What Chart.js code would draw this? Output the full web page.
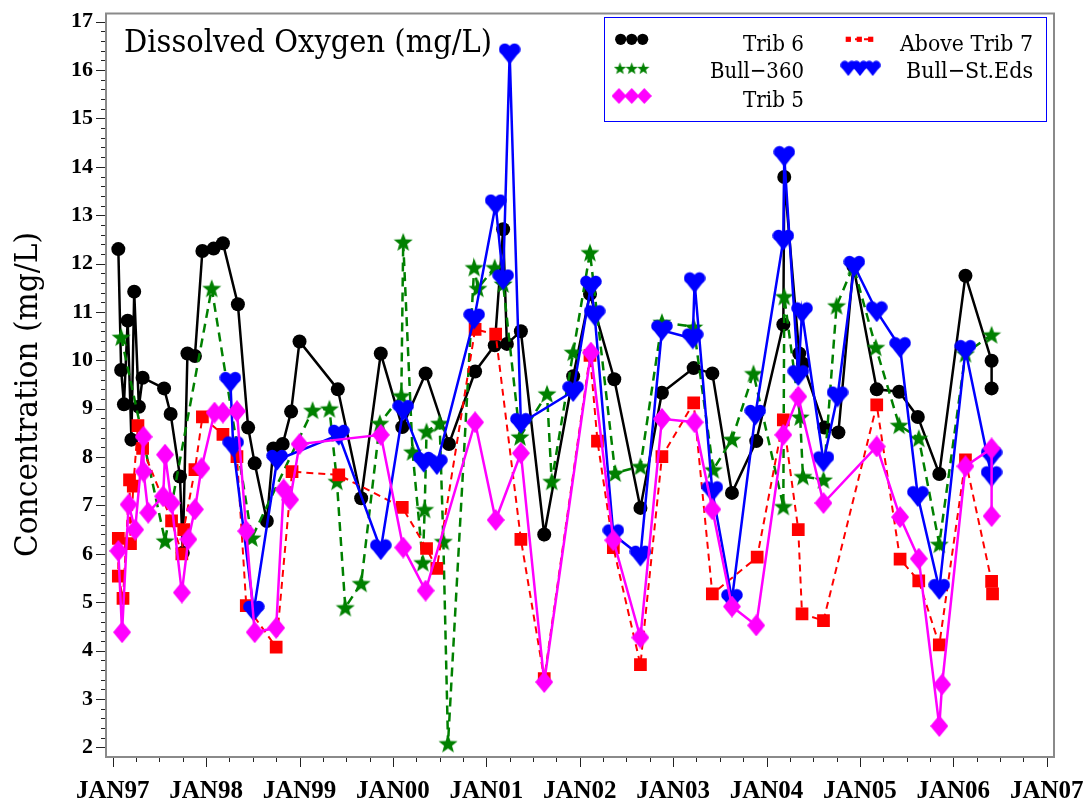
<!DOCTYPE html>
<html>
<head>
<meta charset="utf-8">
<script src="https://cdn.jsdelivr.net/npm/chart.js@4.4.1/dist/chart.umd.min.js"></script>
<style>
  html, body { margin: 0; padding: 0; background: #fff; }
  #wrap { width: 1086px; height: 806px; }
</style>
</head>
<body>
<div id="wrap"><canvas id="chart" width="1086" height="806"></canvas></div>
<script>
// sample dates as decimal years, dissolved oxygen in mg/L
const trib6Year = [1997.06, 1997.09, 1997.12, 1997.16, 1997.20, 1997.23, 1997.28, 1997.32, 1997.55, 1997.62,
  1997.72, 1997.75, 1997.80, 1997.88, 1997.96, 1998.08, 1998.18, 1998.34, 1998.45, 1998.52,
  1998.65, 1998.72, 1998.82, 1998.91, 1999.00, 1999.41, 1999.66, 1999.87, 2000.10, 2000.35,
  2000.60, 2000.88, 2001.09, 2001.18, 2001.22, 2001.37, 2001.62, 2001.93, 2002.11, 2002.37,
  2002.65, 2002.88, 2003.22, 2003.42, 2003.63, 2003.89, 2004.18, 2004.19, 2004.35, 2004.39,
  2004.62, 2004.77, 2004.93, 2005.18, 2005.42, 2005.62, 2005.85, 2006.13, 2006.41, 2006.41];
const trib6DO = [12.30, 9.80, 9.09, 10.82, 8.36, 11.42, 9.04, 9.64, 9.42, 8.89,
  7.60, 6.02, 10.14, 10.09, 12.26, 12.31, 12.42, 11.16, 8.61, 7.87,
  6.68, 8.18, 8.27, 8.94, 10.39, 9.40, 7.15, 10.14, 8.62, 9.73,
  8.27, 9.77, 10.31, 12.71, 10.34, 10.60, 6.40, 9.67, 11.37, 9.61,
  6.95, 9.33, 9.84, 9.73, 7.26, 8.33, 10.74, 13.79, 10.14, 9.93,
  8.61, 8.51, 11.95, 9.40, 9.35, 8.83, 7.65, 11.75, 9.99, 9.42];

const bull360Year = [1997.09, 1997.56, 1998.06, 1998.49, 1999.14, 1999.32, 1999.40, 1999.49, 1999.66, 1999.86,
  2000.09, 2000.11, 2000.21, 2000.32, 2000.34, 2000.36, 2000.50, 2000.54, 2000.59, 2000.87,
  2000.91, 2001.09, 2001.18, 2001.36, 2001.65, 2001.70, 2001.93, 2002.11, 2002.38, 2002.65,
  2002.88, 2003.22, 2003.43, 2003.63, 2003.86, 2004.18, 2004.19, 2004.36, 2004.39, 2004.61,
  2004.75, 2004.93, 2005.17, 2005.42, 2005.63, 2005.85, 2006.13, 2006.41];
const bull360DO = [10.48, 6.27, 11.49, 6.33, 8.97, 9.00, 7.50, 4.89, 5.39, 8.70,
  9.27, 12.45, 8.11, 5.82, 6.92, 8.53, 8.70, 6.26, 2.08, 11.92,
  11.49, 11.92, 11.58, 8.42, 9.31, 7.50, 10.17, 12.23, 7.67, 7.81,
  10.79, 10.69, 7.74, 8.37, 9.73, 6.98, 11.32, 8.83, 7.60, 7.53,
  11.13, 11.95, 10.27, 8.66, 8.39, 6.20, 10.14, 10.53];

const trib5Year = [1997.06, 1997.10, 1997.17, 1997.24, 1997.33, 1997.33, 1997.38, 1997.54, 1997.56, 1997.63,
  1997.74, 1997.81, 1997.88, 1997.95, 1998.09, 1998.18, 1998.33, 1998.43, 1998.52, 1998.75,
  1998.83, 1998.90, 1999.00, 1999.87, 2000.11, 2000.35, 2000.88, 2001.10, 2001.37, 2001.62,
  2002.12, 2002.36, 2002.65, 2002.88, 2003.23, 2003.42, 2003.63, 2003.89, 2004.18, 2004.34,
  2004.61, 2005.18, 2005.43, 2005.63, 2005.85, 2005.88, 2006.13, 2006.41, 2006.41];
const trib5DO = [6.06, 4.38, 7.02, 6.50, 8.42, 7.70, 6.85, 7.19, 8.05, 7.05,
  5.20, 6.30, 6.92, 7.77, 8.92, 8.92, 8.95, 6.47, 4.38, 4.47,
  7.33, 7.12, 8.27, 8.46, 6.13, 5.24, 8.72, 6.70, 8.08, 3.35,
  10.16, 6.28, 4.27, 8.79, 8.72, 6.92, 4.91, 4.52, 8.46, 9.25,
  7.05, 8.22, 6.76, 5.90, 2.44, 3.30, 7.81, 8.18, 6.78];

const aboveTrib7Year = [1997.06, 1997.06, 1997.11, 1997.18, 1997.19, 1997.22, 1997.27, 1997.32, 1997.63, 1997.74,
  1997.76, 1997.88, 1997.96, 1998.18, 1998.33, 1998.43, 1998.75, 1998.92, 1999.42, 2000.10,
  2000.36, 2000.47, 2000.88, 2001.10, 2001.37, 2001.62, 2002.11, 2002.19, 2002.36, 2002.65,
  2002.88, 2003.22, 2003.42, 2003.90, 2004.18, 2004.34, 2004.38, 2004.61, 2005.18, 2005.43,
  2005.63, 2005.85, 2006.13, 2006.41, 2006.42];
const aboveTrib7DO = [6.32, 5.54, 5.08, 7.53, 6.21, 7.40, 8.65, 8.18, 6.68, 6.00,
  6.50, 7.74, 8.83, 8.47, 8.01, 4.93, 4.07, 7.70, 7.63, 6.96,
  6.11, 5.70, 10.64, 10.54, 6.30, 3.42, 10.10, 8.33, 6.13, 3.71,
  8.01, 9.12, 5.17, 5.93, 8.77, 6.50, 4.76, 4.62, 9.08, 5.89,
  5.44, 4.12, 7.94, 5.43, 5.17];

const bullStEdsYear = [1998.26, 1998.29, 1998.51, 1998.76, 1999.42, 1999.87, 2000.11, 2000.33, 2000.47, 2000.87,
  2001.10, 2001.18, 2001.25, 2001.37, 2001.93, 2002.12, 2002.16, 2002.36, 2002.65, 2002.88,
  2003.21, 2003.23, 2003.42, 2003.63, 2003.88, 2004.18, 2004.19, 2004.34, 2004.38, 2004.61,
  2004.76, 2004.94, 2005.18, 2005.43, 2005.62, 2005.85, 2006.13, 2006.41, 2006.41];
const bullStEdsDO = [9.55, 8.22, 4.82, 7.94, 8.46, 6.09, 8.97, 7.90, 7.85, 10.86,
  13.22, 11.67, 16.34, 8.70, 9.36, 11.54, 10.93, 6.40, 5.96, 10.62,
  10.45, 11.61, 7.29, 5.06, 8.87, 12.49, 14.22, 9.69, 10.99, 7.91,
  9.25, 11.95, 11.01, 10.27, 7.19, 5.27, 10.21, 7.60, 8.01];

const xTicks = [1997, 1998, 1999, 2000, 2001, 2002, 2003, 2004, 2005, 2006, 2007];
const xTickLabels = ['JAN97', 'JAN98', 'JAN99', 'JAN00', 'JAN01', 'JAN02', 'JAN03', 'JAN04', 'JAN05', 'JAN06', 'JAN07'];
const yTicks = [2, 3, 4, 5, 6, 7, 8, 9, 10, 11, 12, 13, 14, 15, 16, 17];

const serif = '"DejaVu Serif", "Liberation Serif", serif';
const tickFamily = '"Liberation Serif", "DejaVu Serif", serif';

function markerCanvas(w, h, draw) {
  const c = document.createElement('canvas');
  c.width = w;
  c.height = h;
  draw(c.getContext('2d'), w, h);
  return c;
}

function makeStar(size, color) {
  return markerCanvas(size, size, (g, w, h) => {
    const R = w / 2, r = R * 0.42;
    const cx = w / 2, cy = h / 2 + R * 0.09;
    g.fillStyle = color;
    g.beginPath();
    for (let i = 0; i < 10; i++) {
      const rad = i % 2 ? r : R;
      const a = -Math.PI / 2 + i * Math.PI / 5;
      g.lineTo(cx + rad * Math.cos(a), cy + rad * Math.sin(a));
    }
    g.closePath();
    g.fill();
  });
}

function makeHeart(w, h, color) {
  return markerCanvas(w, h, (g) => {
    const r = w * 0.27;
    g.fillStyle = color;
    g.beginPath();
    g.arc(w * 0.28, h * 0.3, r, 0, Math.PI * 2);
    g.arc(w * 0.72, h * 0.3, r, 0, Math.PI * 2);
    g.fill();
    g.beginPath();
    g.moveTo(w * 0.02, h * 0.38);
    g.lineTo(w * 0.98, h * 0.38);
    g.lineTo(w * 0.5, h * 0.99);
    g.closePath();
    g.fill();
  });
}

function makeDiamond(w, h, color) {
  return markerCanvas(w, h, (g) => {
    g.fillStyle = color;
    g.beginPath();
    g.moveTo(w / 2, 0);
    g.lineTo(w, h / 2);
    g.lineTo(w / 2, h);
    g.lineTo(0, h / 2);
    g.closePath();
    g.fill();
  });
}

const GREEN = '#008000', MAGENTA = '#ff00ff', RED = '#ff0000', BLUE = '#0000ff';

const starPt = makeStar(20, GREEN);
const heartPt = makeHeart(22, 22, BLUE);
const diamondPt = makeDiamond(18, 22, MAGENTA);
const starKey = makeStar(13, GREEN);
const heartKey = makeHeart(16, 16, BLUE);
const diamondKey = makeDiamond(15, 16, MAGENTA);

function pts(xs, ys) {
  return xs.map((x, i) => ({ x, y: ys[i] }));
}

function fitText(ctx, text, x, y, width, align) {
  const w = ctx.measureText(text).width;
  ctx.save();
  ctx.translate(x, y);
  ctx.scale(width / w, 1);
  ctx.textAlign = align;
  ctx.fillText(text, 0, 0);
  ctx.restore();
}

const decorations = {
  id: 'decorations',
  afterDraw(chart) {
    const { ctx, chartArea: a, scales: { x, y } } = chart;
    ctx.save();

    // tick marks: quarters on x, 0.2 mg/L on y
    ctx.strokeStyle = '#222';
    ctx.lineWidth = 1;
    ctx.beginPath();
    for (let q = 0; q <= 40; q++) {
      const px = Math.round(x.getPixelForValue(1997 + q / 4)) + 0.5;
      const len = q % 4 === 0 ? 10 : 5;
      ctx.moveTo(px, a.bottom);
      ctx.lineTo(px, a.bottom + len);
    }
    for (let q = 0; q <= 75; q++) {
      const py = Math.round(y.getPixelForValue(2 + q / 5)) + 0.5;
      const len = q % 5 === 0 ? 10 : 5;
      ctx.moveTo(a.left - len, py);
      ctx.lineTo(a.left, py);
    }
    ctx.stroke();

    ctx.strokeStyle = '#8a8a8a';
    ctx.lineWidth = 2;
    ctx.strokeRect(a.left, a.top, a.right - a.left, a.bottom - a.top);

    ctx.fillStyle = '#000';
    ctx.textBaseline = 'alphabetic';

    // title in the plot
    ctx.font = '32px ' + serif;
    fitText(ctx, 'Dissolved Oxygen (mg/L)', 124, 52, 368, 'left');

    // y axis title
    ctx.save();
    ctx.translate(37, 557);
    ctx.rotate(-Math.PI / 2);
    ctx.font = '32px ' + serif;
    fitText(ctx, 'Concentration (mg/L)', 0, 0, 325, 'left');
    ctx.restore();

    // legend box
    ctx.strokeStyle = BLUE;
    ctx.lineWidth = 1;
    ctx.strokeRect(604.5, 17.5, 442, 104);

    ctx.fillStyle = '#000';
    [620.7, 631.7, 642.7].forEach(cx => {
      ctx.beginPath();
      ctx.arc(cx, 39.3, 5.6, 0, Math.PI * 2);
      ctx.fill();
    });
    [620, 631.7, 643.3].forEach(cx => ctx.drawImage(starKey, cx - 6.5, 68.3 - 6.5));
    [619, 631.7, 644.3].forEach(cx => ctx.drawImage(diamondKey, cx - 7.5, 96 - 8));

    ctx.strokeStyle = RED;
    ctx.lineWidth = 2;
    ctx.setLineDash([5, 4]);
    ctx.beginPath();
    ctx.moveTo(846, 39.3);
    ctx.lineTo(873, 39.3);
    ctx.stroke();
    ctx.setLineDash([]);
    ctx.fillStyle = RED;
    [848.3, 859.3, 870.7].forEach(cx => ctx.fillRect(cx - 2.6, 39.3 - 2.6, 5.2, 5.2));
    [848.3, 860, 872.7].forEach(cx => ctx.drawImage(heartKey, cx - 8, 68.3 - 8));

    ctx.fillStyle = '#000';
    ctx.font = '23px ' + serif;
    fitText(ctx, 'Trib 6', 804, 50.7, 61, 'right');
    fitText(ctx, 'Bull\u2212360', 804, 78.3, 94, 'right');
    fitText(ctx, 'Trib 5', 804, 107.3, 61, 'right');
    fitText(ctx, 'Above Trib 7', 1033, 50.7, 133, 'right');
    fitText(ctx, 'Bull\u2212St.Eds', 1033, 78.3, 127, 'right');

    ctx.restore();
  }
};

new Chart(document.getElementById('chart'), {
  type: 'line',
  data: {
    datasets: [
      {
        label: 'Trib 6',
        data: pts(trib6Year, trib6DO),
        borderColor: '#000',
        borderWidth: 2.5,
        pointStyle: 'circle',
        pointRadius: 7,
        pointBackgroundColor: '#000',
        pointBorderWidth: 0,
        order: 4,
      },
      {
        label: 'Bull\u2212360',
        data: pts(bull360Year, bull360DO),
        borderColor: GREEN,
        borderWidth: 2.5,
        borderDash: [9, 6],
        pointStyle: starPt,
        pointRadius: 10,
        order: 3,
      },
      {
        label: 'Trib 5',
        data: pts(trib5Year, trib5DO),
        borderColor: MAGENTA,
        borderWidth: 2.5,
        pointStyle: diamondPt,
        pointRadius: 10,
        order: 0,
      },
      {
        label: 'Above Trib 7',
        data: pts(aboveTrib7Year, aboveTrib7DO),
        borderColor: RED,
        borderWidth: 2,
        borderDash: [7, 5],
        pointStyle: 'rect',
        pointRadius: 9,
        pointBackgroundColor: RED,
        pointBorderWidth: 0,
        order: 2,
      },
      {
        label: 'Bull\u2212St.Eds',
        data: pts(bullStEdsYear, bullStEdsDO),
        borderColor: BLUE,
        borderWidth: 2.5,
        pointStyle: heartPt,
        pointRadius: 11,
        order: 1,
      },
    ],
  },
  options: {
    responsive: false,
    animation: false,
    events: [],
    layout: { padding: { top: 10, right: 32, left: 0, bottom: 0 } },
    elements: { line: { tension: 0, fill: false } },
    plugins: { legend: { display: false }, tooltip: { enabled: false } },
    scales: {
      x: {
        type: 'linear',
        min: 1996.928,
        max: 2007.078,
        afterFit: s => { s.height = 49; s.paddingLeft = 0; s.paddingRight = 0; },
        afterBuildTicks: s => { s.ticks = xTicks.map(v => ({ value: v })); },
        grid: { display: false, drawTicks: false },
        border: { display: false },
        ticks: {
          autoSkip: false,
          maxRotation: 0,
          padding: 20,
          color: '#000',
          font: { family: tickFamily, size: 25, weight: 'bold' },
          callback: (v, i) => xTickLabels[i],
        },
      },
      y: {
        type: 'linear',
        min: 1.80,
        max: 17.17,
        afterFit: s => { s.width = 106; s.paddingTop = 0; s.paddingBottom = 0; },
        afterBuildTicks: s => { s.ticks = yTicks.map(v => ({ value: v })); },
        grid: { display: false, drawTicks: false },
        border: { display: false },
        ticks: {
          padding: 13,
          color: '#000',
          font: { family: tickFamily, size: 22, weight: 'bold' },
          callback: v => String(v),
        },
      },
    },
  },
  plugins: [decorations],
});
</script>
</body>
</html>
